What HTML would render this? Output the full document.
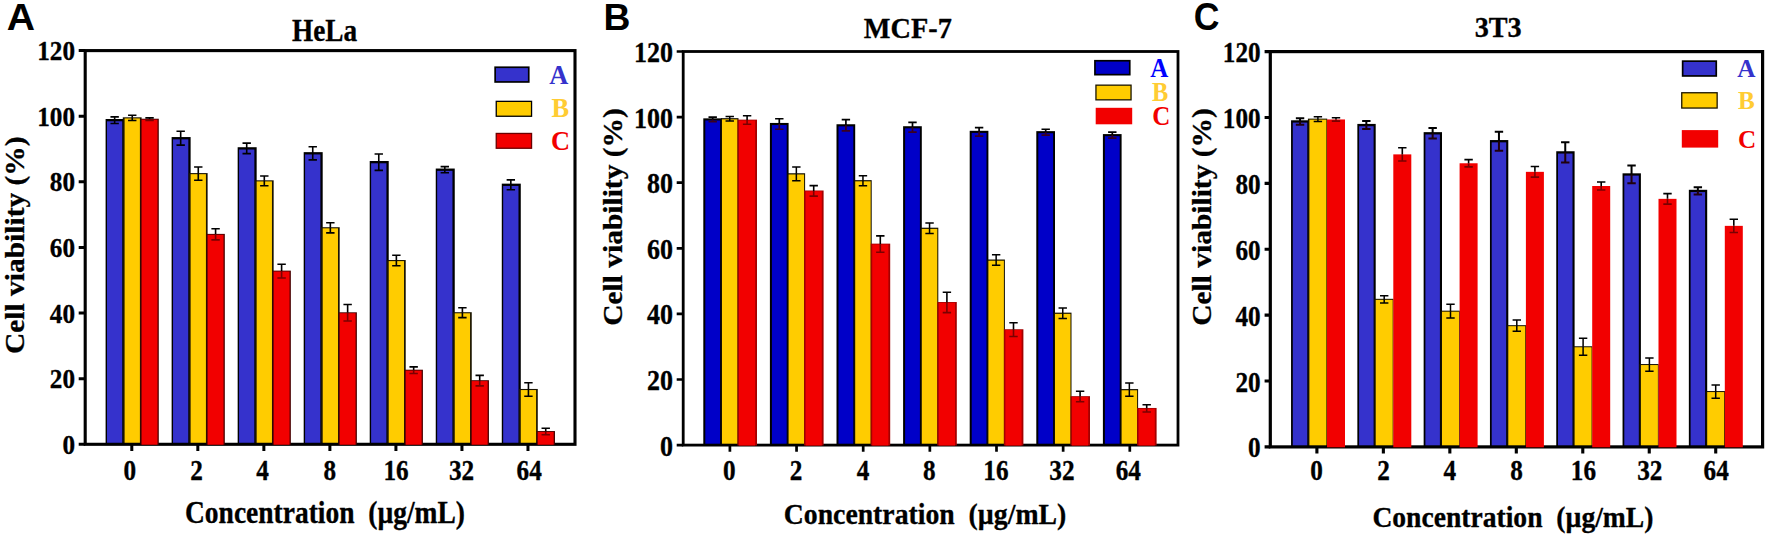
<!DOCTYPE html>
<html lang="en">
<head>
<meta charset="utf-8">
<title>Cell viability of HeLa, MCF-7 and 3T3 cells</title>
<style>
html,body{margin:0;padding:0;background:#fff;}
body{width:1772px;height:539px;overflow:hidden;}
svg{display:block;}
text{font-family:"Liberation Serif","Times New Roman",Times,serif;font-weight:bold;}
.tk,.ti,.xl,.yl{stroke:#000;stroke-width:0.3px;stroke-linejoin:round;}
.xl{white-space:pre;}
.yl{font-size:26.7px;}
.le{font-family:"Liberation Sans",Arial,Helvetica,sans-serif;font-size:37.3px;}
</style>
</head>
<body>
<svg width="1772" height="539" viewBox="0 0 1772 539">
<rect width="1772" height="539" fill="#fff"/>
<g class="panel" id="panelA">
<rect x="105.6" y="119" width="19" height="325.3" fill="#000"/><rect x="107" y="121.3" width="15.3" height="323" fill="#3532CC"/>
<rect x="122.8" y="117.31" width="18.8" height="326.99" fill="#1a1400"/><rect x="124.6" y="118.41" width="15.3" height="325.89" fill="#FFCC00"/>
<rect x="171.63" y="137.05" width="19" height="307.25" fill="#000"/><rect x="173.03" y="139.35" width="15.3" height="304.95" fill="#3532CC"/>
<rect x="188.83" y="173.08" width="18.8" height="271.22" fill="#1a1400"/><rect x="190.63" y="174.18" width="15.3" height="270.12" fill="#FFCC00"/>
<rect x="237.66" y="147.22" width="19" height="297.08" fill="#000"/><rect x="239.06" y="149.52" width="15.3" height="294.78" fill="#3532CC"/>
<rect x="254.86" y="180.3" width="18.8" height="264" fill="#1a1400"/><rect x="256.66" y="181.4" width="15.3" height="262.9" fill="#FFCC00"/>
<rect x="303.69" y="152.14" width="19" height="292.16" fill="#000"/><rect x="305.09" y="154.44" width="15.3" height="289.86" fill="#3532CC"/>
<rect x="320.89" y="227.22" width="18.8" height="217.09" fill="#1a1400"/><rect x="322.69" y="228.32" width="15.3" height="215.98" fill="#FFCC00"/>
<rect x="369.72" y="161" width="19" height="283.3" fill="#000"/><rect x="371.12" y="163.3" width="15.3" height="281" fill="#3532CC"/>
<rect x="386.92" y="260.02" width="18.8" height="184.28" fill="#1a1400"/><rect x="388.72" y="261.12" width="15.3" height="183.18" fill="#FFCC00"/>
<rect x="435.75" y="168.54" width="19" height="275.76" fill="#000"/><rect x="437.15" y="170.84" width="15.3" height="273.46" fill="#3532CC"/>
<rect x="452.95" y="312.19" width="18.8" height="132.11" fill="#1a1400"/><rect x="454.75" y="313.29" width="15.3" height="131.01" fill="#FFCC00"/>
<rect x="501.78" y="183.64" width="19" height="260.66" fill="#000"/><rect x="503.18" y="185.94" width="15.3" height="258.36" fill="#3532CC"/>
<rect x="518.98" y="388.96" width="18.8" height="55.34" fill="#1a1400"/><rect x="520.78" y="390.06" width="15.3" height="54.24" fill="#FFCC00"/>
<rect x="85.2" y="50.6" width="489.8" height="393.7" fill="none" stroke="#000" stroke-width="3.1"/>
<rect x="140.5" y="118.72" width="18.3" height="325.98" fill="#4a0000"/><rect x="141.6" y="119.62" width="15.9" height="325.08" fill="#F20000"/>
<rect x="206.53" y="233.88" width="18.3" height="210.82" fill="#4a0000"/><rect x="207.63" y="234.78" width="15.9" height="209.92" fill="#F20000"/>
<rect x="272.56" y="270.62" width="18.3" height="174.08" fill="#4a0000"/><rect x="273.66" y="271.52" width="15.9" height="173.18" fill="#F20000"/>
<rect x="338.59" y="312.29" width="18.3" height="132.41" fill="#4a0000"/><rect x="339.69" y="313.19" width="15.9" height="131.51" fill="#F20000"/>
<rect x="404.62" y="369.7" width="18.3" height="75" fill="#4a0000"/><rect x="405.72" y="370.6" width="15.9" height="74.1" fill="#F20000"/>
<rect x="470.65" y="380.2" width="18.3" height="64.5" fill="#4a0000"/><rect x="471.75" y="381.1" width="15.9" height="63.6" fill="#F20000"/>
<rect x="536.68" y="431.05" width="18.3" height="13.65" fill="#4a0000"/><rect x="537.78" y="431.95" width="15.9" height="12.75" fill="#F20000"/>
<path d="M114.65 116.87V120.15M110.45 116.87H118.85" stroke="#000" stroke-width="1.6" fill="none"/>
<path d="M114.65 120.15V123.43M110.45 123.43H118.85" stroke="#000" stroke-width="1.6" fill="none"/>
<path d="M132.25 115.23V117.86M128.05 115.23H136.45" stroke="#000" stroke-width="1.6" fill="none"/>
<path d="M132.25 117.86V120.48M128.05 120.48H136.45" stroke="#000" stroke-width="1.6" fill="none"/>
<path d="M149.55 117.86V119.17M145.35 117.86H153.75" stroke="#000" stroke-width="1.6" fill="none"/>
<path d="M149.55 119.17V120.48M145.35 120.48H153.75" stroke="#7a0000" stroke-width="1.6" fill="none"/>
<path d="M180.68 131.31V138.2M176.48 131.31H184.88" stroke="#000" stroke-width="1.6" fill="none"/>
<path d="M180.68 138.2V145.09M176.48 145.09H184.88" stroke="#000" stroke-width="1.6" fill="none"/>
<path d="M198.28 167.07V173.63M194.08 167.07H202.48" stroke="#000" stroke-width="1.6" fill="none"/>
<path d="M198.28 173.63V180.19M194.08 180.19H202.48" stroke="#000" stroke-width="1.6" fill="none"/>
<path d="M215.58 228.75V234.33M211.38 228.75H219.78" stroke="#000" stroke-width="1.6" fill="none"/>
<path d="M215.58 234.33V239.9M211.38 239.9H219.78" stroke="#7a0000" stroke-width="1.6" fill="none"/>
<path d="M246.71 143.12V148.37M242.51 143.12H250.91" stroke="#000" stroke-width="1.6" fill="none"/>
<path d="M246.71 148.37V153.62M242.51 153.62H250.91" stroke="#000" stroke-width="1.6" fill="none"/>
<path d="M264.31 175.93V180.85M260.11 175.93H268.51" stroke="#000" stroke-width="1.6" fill="none"/>
<path d="M264.31 180.85V185.77M260.11 185.77H268.51" stroke="#000" stroke-width="1.6" fill="none"/>
<path d="M281.61 264.18V271.07M277.41 264.18H285.81" stroke="#000" stroke-width="1.6" fill="none"/>
<path d="M281.61 271.07V277.96M277.41 277.96H285.81" stroke="#7a0000" stroke-width="1.6" fill="none"/>
<path d="M312.74 146.73V153.29M308.54 146.73H316.94" stroke="#000" stroke-width="1.6" fill="none"/>
<path d="M312.74 153.29V159.85M308.54 159.85H316.94" stroke="#000" stroke-width="1.6" fill="none"/>
<path d="M330.34 222.68V227.77M326.14 222.68H334.54" stroke="#000" stroke-width="1.6" fill="none"/>
<path d="M330.34 227.77V232.85M326.14 232.85H334.54" stroke="#000" stroke-width="1.6" fill="none"/>
<path d="M347.64 304.54V312.74M343.44 304.54H351.84" stroke="#000" stroke-width="1.6" fill="none"/>
<path d="M347.64 312.74V320.94M343.44 320.94H351.84" stroke="#7a0000" stroke-width="1.6" fill="none"/>
<path d="M378.77 153.95V162.15M374.57 153.95H382.97" stroke="#000" stroke-width="1.6" fill="none"/>
<path d="M378.77 162.15V170.35M374.57 170.35H382.97" stroke="#000" stroke-width="1.6" fill="none"/>
<path d="M396.37 255.32V260.57M392.17 255.32H400.57" stroke="#000" stroke-width="1.6" fill="none"/>
<path d="M396.37 260.57V265.82M392.17 265.82H400.57" stroke="#000" stroke-width="1.6" fill="none"/>
<path d="M413.67 366.87V370.15M409.47 366.87H417.87" stroke="#000" stroke-width="1.6" fill="none"/>
<path d="M413.67 370.15V373.43M409.47 373.43H417.87" stroke="#7a0000" stroke-width="1.6" fill="none"/>
<path d="M444.8 166.58V169.69M440.6 166.58H449" stroke="#000" stroke-width="1.6" fill="none"/>
<path d="M444.8 169.69V172.81M440.6 172.81H449" stroke="#000" stroke-width="1.6" fill="none"/>
<path d="M462.4 307.82V312.74M458.2 307.82H466.6" stroke="#000" stroke-width="1.6" fill="none"/>
<path d="M462.4 312.74V317.66M458.2 317.66H466.6" stroke="#000" stroke-width="1.6" fill="none"/>
<path d="M479.7 375.4V380.65M475.5 375.4H483.9" stroke="#000" stroke-width="1.6" fill="none"/>
<path d="M479.7 380.65V385.9M475.5 385.9H483.9" stroke="#7a0000" stroke-width="1.6" fill="none"/>
<path d="M510.83 179.86V184.79M506.63 179.86H515.03" stroke="#000" stroke-width="1.6" fill="none"/>
<path d="M510.83 184.79V189.71M506.63 189.71H515.03" stroke="#000" stroke-width="1.6" fill="none"/>
<path d="M528.43 382.78V389.51M524.23 382.78H532.63" stroke="#000" stroke-width="1.6" fill="none"/>
<path d="M528.43 389.51V396.24M524.23 396.24H532.63" stroke="#000" stroke-width="1.6" fill="none"/>
<path d="M545.73 428.22V431.5M541.53 428.22H549.93" stroke="#000" stroke-width="1.6" fill="none"/>
<path d="M545.73 431.5V434.79M541.53 434.79H549.93" stroke="#7a0000" stroke-width="1.6" fill="none"/>
<path d="M78.7 444.3H85.2M78.7 378.68H85.2M78.7 313.07H85.2M78.7 247.45H85.2M78.7 181.83H85.2M78.7 116.22H85.2M78.7 50.6H85.2M131.8 444.3V450.9M197.83 444.3V450.9M263.86 444.3V450.9M329.89 444.3V450.9M395.92 444.3V450.9M461.95 444.3V450.9M527.98 444.3V450.9" stroke="#000" stroke-width="3.0" fill="none"/>
<text class="tk" transform="translate(75 453.9) scale(1 1.09)" text-anchor="end" font-size="25.2">0</text>
<text class="tk" transform="translate(75 388.28) scale(1 1.09)" text-anchor="end" font-size="25.2">20</text>
<text class="tk" transform="translate(75 322.67) scale(1 1.09)" text-anchor="end" font-size="25.2">40</text>
<text class="tk" transform="translate(75 257.05) scale(1 1.09)" text-anchor="end" font-size="25.2">60</text>
<text class="tk" transform="translate(75 191.43) scale(1 1.09)" text-anchor="end" font-size="25.2">80</text>
<text class="tk" transform="translate(75 125.82) scale(1 1.09)" text-anchor="end" font-size="25.2">100</text>
<text class="tk" transform="translate(75 60.2) scale(1 1.09)" text-anchor="end" font-size="25.2">120</text>
<text class="tk" transform="translate(129.85 479.7) scale(1 1.13)" text-anchor="middle" font-size="25.2">0</text>
<text class="tk" transform="translate(196.6 479.7) scale(1 1.13)" text-anchor="middle" font-size="25.2">2</text>
<text class="tk" transform="translate(262.6 479.7) scale(1 1.13)" text-anchor="middle" font-size="25.2">4</text>
<text class="tk" transform="translate(329.7 479.7) scale(1 1.13)" text-anchor="middle" font-size="25.2">8</text>
<text class="tk" transform="translate(396 479.7) scale(1 1.13)" text-anchor="middle" font-size="25.2">16</text>
<text class="tk" transform="translate(461.5 479.7) scale(1 1.13)" text-anchor="middle" font-size="25.2">32</text>
<text class="tk" transform="translate(529.2 479.7) scale(1 1.13)" text-anchor="middle" font-size="25.2">64</text>
<text class="ti" transform="translate(324.5 41.2) scale(1 1.12)" text-anchor="middle" font-size="27.3">HeLa</text>
<text class="le" transform="translate(6.7 30.1) scale(1.05 1)" text-anchor="start">A</text>
<text class="xl" transform="translate(325 523.45) scale(1 1.115)" text-anchor="middle" xml:space="preserve" font-size="27.5">Concentration  (µg/mL)</text>
<text class="yl" transform="translate(23.8 245.2) rotate(-90) scale(1.104 1)" text-anchor="middle">Cell viability (%)</text>
<rect x="495.15" y="67.25" width="33.6" height="14.7" fill="#3532CC" stroke="#000" stroke-width="1.7000000000000002"/>
<text class="lg" transform="translate(558.85 83.6) scale(1 1.02)" text-anchor="middle" fill="#3532CC" font-size="26.4">A</text>
<rect x="496.25" y="101.35" width="35.3" height="14.9" fill="#FFCC00" stroke="#000" stroke-width="1.3"/>
<text class="lg" transform="translate(560.35 117) scale(1 1.02)" text-anchor="middle" fill="#FFCC33" font-size="26.4">B</text>
<rect x="496.25" y="133.45" width="35.3" height="14.8" fill="#F20000" stroke="#6a0000" stroke-width="1.3"/>
<text class="lg" transform="translate(560.55 149.55) scale(1 1.02)" text-anchor="middle" fill="#F20000" font-size="26.4">C</text>
</g>
<g class="panel" id="panelB">
<rect x="703.3" y="118.35" width="18.7" height="326.75" fill="#000"/><rect x="705.3" y="120.45" width="14.8" height="324.65" fill="#0000C8"/>
<rect x="720.9" y="118.14" width="17.6" height="326.96" fill="#141000"/><rect x="722" y="119.34" width="15.5" height="325.76" fill="#FFCC00"/>
<rect x="769.9" y="122.94" width="18.7" height="322.16" fill="#000"/><rect x="771.9" y="125.04" width="14.8" height="320.06" fill="#0000C8"/>
<rect x="787.5" y="173.24" width="17.6" height="271.86" fill="#141000"/><rect x="788.6" y="174.44" width="15.5" height="270.66" fill="#FFCC00"/>
<rect x="836.5" y="124.25" width="18.7" height="320.85" fill="#000"/><rect x="838.5" y="126.35" width="14.8" height="318.75" fill="#0000C8"/>
<rect x="854.1" y="180.13" width="17.6" height="264.97" fill="#141000"/><rect x="855.2" y="181.33" width="15.5" height="263.77" fill="#FFCC00"/>
<rect x="903.1" y="126.22" width="18.7" height="318.88" fill="#000"/><rect x="905.1" y="128.32" width="14.8" height="316.78" fill="#0000C8"/>
<rect x="920.7" y="227.69" width="17.6" height="217.41" fill="#141000"/><rect x="921.8" y="228.89" width="15.5" height="216.21" fill="#FFCC00"/>
<rect x="969.7" y="130.81" width="18.7" height="314.29" fill="#000"/><rect x="971.7" y="132.91" width="14.8" height="312.19" fill="#0000C8"/>
<rect x="987.3" y="259.51" width="17.6" height="185.59" fill="#141000"/><rect x="988.4" y="260.71" width="15.5" height="184.39" fill="#FFCC00"/>
<rect x="1036.3" y="131.14" width="18.7" height="313.96" fill="#000"/><rect x="1038.3" y="133.24" width="14.8" height="311.86" fill="#0000C8"/>
<rect x="1053.9" y="312.64" width="17.6" height="132.46" fill="#141000"/><rect x="1055" y="313.84" width="15.5" height="131.26" fill="#FFCC00"/>
<rect x="1102.9" y="134.09" width="18.7" height="311.01" fill="#000"/><rect x="1104.9" y="136.19" width="14.8" height="308.91" fill="#0000C8"/>
<rect x="1120.5" y="389.07" width="17.6" height="56.03" fill="#141000"/><rect x="1121.6" y="390.27" width="15.5" height="54.83" fill="#FFCC00"/>
<rect x="683.2" y="51.5" width="494.8" height="393.6" fill="none" stroke="#000" stroke-width="2.8"/>
<rect x="737.5" y="119.65" width="19.5" height="325.85" fill="#A40000"/><rect x="739" y="120.45" width="16.2" height="325.05" fill="#F20000"/>
<rect x="804.1" y="190.5" width="19.5" height="255" fill="#A40000"/><rect x="805.6" y="191.3" width="16.2" height="254.2" fill="#F20000"/>
<rect x="870.7" y="243.64" width="19.5" height="201.86" fill="#A40000"/><rect x="872.2" y="244.44" width="16.2" height="201.06" fill="#F20000"/>
<rect x="937.3" y="302.02" width="19.5" height="143.48" fill="#A40000"/><rect x="938.8" y="302.82" width="16.2" height="142.68" fill="#F20000"/>
<rect x="1003.9" y="329.24" width="19.5" height="116.26" fill="#A40000"/><rect x="1005.4" y="330.04" width="16.2" height="115.46" fill="#F20000"/>
<rect x="1070.5" y="396.16" width="19.5" height="49.34" fill="#A40000"/><rect x="1072" y="396.96" width="16.2" height="48.54" fill="#F20000"/>
<rect x="1137.1" y="407.96" width="19.5" height="37.54" fill="#A40000"/><rect x="1138.6" y="408.76" width="16.2" height="36.74" fill="#F20000"/>
<path d="M712.7 117.1V119.4M708.5 117.1H716.9" stroke="#000" stroke-width="1.7" fill="none"/>
<path d="M712.7 119.4V121.69M708.5 121.69H716.9" stroke="#3a0020" stroke-width="1.7" fill="none"/>
<path d="M729.75 116.44V118.74M725.55 116.44H733.95" stroke="#000" stroke-width="1.5" fill="none"/>
<path d="M729.75 118.74V121.04M725.55 121.04H733.95" stroke="#000" stroke-width="1.5" fill="none"/>
<path d="M747.1 115.79V120.05M742.9 115.79H751.3" stroke="#000" stroke-width="1.6" fill="none"/>
<path d="M747.1 120.05V124.32M742.9 124.32H751.3" stroke="#7a0000" stroke-width="1.6" fill="none"/>
<path d="M779.3 118.74V123.99M775.1 118.74H783.5" stroke="#000" stroke-width="1.7" fill="none"/>
<path d="M779.3 123.99V129.24M775.1 129.24H783.5" stroke="#3a0020" stroke-width="1.7" fill="none"/>
<path d="M796.35 166.96V173.84M792.15 166.96H800.55" stroke="#000" stroke-width="1.5" fill="none"/>
<path d="M796.35 173.84V180.73M792.15 180.73H800.55" stroke="#000" stroke-width="1.5" fill="none"/>
<path d="M813.7 185.65V190.9M809.5 185.65H817.9" stroke="#000" stroke-width="1.6" fill="none"/>
<path d="M813.7 190.9V196.15M809.5 196.15H817.9" stroke="#7a0000" stroke-width="1.6" fill="none"/>
<path d="M845.9 119.72V125.3M841.7 119.72H850.1" stroke="#000" stroke-width="1.7" fill="none"/>
<path d="M845.9 125.3V130.88M841.7 130.88H850.1" stroke="#3a0020" stroke-width="1.7" fill="none"/>
<path d="M862.95 175.81V180.73M858.75 175.81H867.15" stroke="#000" stroke-width="1.5" fill="none"/>
<path d="M862.95 180.73V185.65M858.75 185.65H867.15" stroke="#000" stroke-width="1.5" fill="none"/>
<path d="M880.3 235.84V244.04M876.1 235.84H884.5" stroke="#000" stroke-width="1.6" fill="none"/>
<path d="M880.3 244.04V252.24M876.1 252.24H884.5" stroke="#7a0000" stroke-width="1.6" fill="none"/>
<path d="M912.5 122.35V127.27M908.3 122.35H916.7" stroke="#000" stroke-width="1.7" fill="none"/>
<path d="M912.5 127.27V132.19M908.3 132.19H916.7" stroke="#3a0020" stroke-width="1.7" fill="none"/>
<path d="M929.55 223.04V228.29M925.35 223.04H933.75" stroke="#000" stroke-width="1.5" fill="none"/>
<path d="M929.55 228.29V233.54M925.35 233.54H933.75" stroke="#000" stroke-width="1.5" fill="none"/>
<path d="M946.9 292.25V302.42M942.7 292.25H951.1" stroke="#000" stroke-width="1.6" fill="none"/>
<path d="M946.9 302.42V312.59M942.7 312.59H951.1" stroke="#7a0000" stroke-width="1.6" fill="none"/>
<path d="M979.1 127.6V131.86M974.9 127.6H983.3" stroke="#000" stroke-width="1.7" fill="none"/>
<path d="M979.1 131.86V136.12M974.9 136.12H983.3" stroke="#3a0020" stroke-width="1.7" fill="none"/>
<path d="M996.15 254.86V260.11M991.95 254.86H1000.35" stroke="#000" stroke-width="1.5" fill="none"/>
<path d="M996.15 260.11V265.36M991.95 265.36H1000.35" stroke="#000" stroke-width="1.5" fill="none"/>
<path d="M1013.5 322.76V329.64M1009.3 322.76H1017.7" stroke="#000" stroke-width="1.6" fill="none"/>
<path d="M1013.5 329.64V336.53M1009.3 336.53H1017.7" stroke="#7a0000" stroke-width="1.6" fill="none"/>
<path d="M1045.7 129.24V132.19M1041.5 129.24H1049.9" stroke="#000" stroke-width="1.7" fill="none"/>
<path d="M1045.7 132.19V135.14M1041.5 135.14H1049.9" stroke="#3a0020" stroke-width="1.7" fill="none"/>
<path d="M1062.75 308V313.24M1058.55 308H1066.95" stroke="#000" stroke-width="1.5" fill="none"/>
<path d="M1062.75 313.24V318.49M1058.55 318.49H1066.95" stroke="#000" stroke-width="1.5" fill="none"/>
<path d="M1080.1 391.31V396.56M1075.9 391.31H1084.3" stroke="#000" stroke-width="1.6" fill="none"/>
<path d="M1080.1 396.56V401.8M1075.9 401.8H1084.3" stroke="#7a0000" stroke-width="1.6" fill="none"/>
<path d="M1112.3 132.19V135.14M1108.1 132.19H1116.5" stroke="#000" stroke-width="1.7" fill="none"/>
<path d="M1112.3 135.14V138.09M1108.1 138.09H1116.5" stroke="#3a0020" stroke-width="1.7" fill="none"/>
<path d="M1129.35 383.11V389.67M1125.15 383.11H1133.55" stroke="#000" stroke-width="1.5" fill="none"/>
<path d="M1129.35 389.67V396.23M1125.15 396.23H1133.55" stroke="#000" stroke-width="1.5" fill="none"/>
<path d="M1146.7 404.76V408.36M1142.5 404.76H1150.9" stroke="#000" stroke-width="1.6" fill="none"/>
<path d="M1146.7 408.36V411.97M1142.5 411.97H1150.9" stroke="#7a0000" stroke-width="1.6" fill="none"/>
<path d="M676.7 445.1H683.2M676.7 379.5H683.2M676.7 313.9H683.2M676.7 248.3H683.2M676.7 182.7H683.2M676.7 117.1H683.2M676.7 51.5H683.2M729.9 445.1V451.7M796.55 445.1V451.7M863.2 445.1V451.7M929.85 445.1V451.7M996.5 445.1V451.7M1063.15 445.1V451.7M1129.8 445.1V451.7" stroke="#000" stroke-width="2.7" fill="none"/>
<text class="tk" transform="translate(672.9 455.6) scale(1 1.14)" text-anchor="end" font-size="26.0">0</text>
<text class="tk" transform="translate(672.9 390) scale(1 1.14)" text-anchor="end" font-size="26.0">20</text>
<text class="tk" transform="translate(672.9 324.4) scale(1 1.14)" text-anchor="end" font-size="26.0">40</text>
<text class="tk" transform="translate(672.9 258.8) scale(1 1.14)" text-anchor="end" font-size="26.0">60</text>
<text class="tk" transform="translate(672.9 193.2) scale(1 1.14)" text-anchor="end" font-size="26.0">80</text>
<text class="tk" transform="translate(672.9 127.6) scale(1 1.14)" text-anchor="end" font-size="26.0">100</text>
<text class="tk" transform="translate(672.9 62) scale(1 1.14)" text-anchor="end" font-size="26.0">120</text>
<text class="tk" transform="translate(729.4 480) scale(1 1.13)" text-anchor="middle" font-size="25.2">0</text>
<text class="tk" transform="translate(796 480) scale(1 1.13)" text-anchor="middle" font-size="25.2">2</text>
<text class="tk" transform="translate(863 480) scale(1 1.13)" text-anchor="middle" font-size="25.2">4</text>
<text class="tk" transform="translate(929.4 480) scale(1 1.13)" text-anchor="middle" font-size="25.2">8</text>
<text class="tk" transform="translate(995.9 480) scale(1 1.13)" text-anchor="middle" font-size="25.2">16</text>
<text class="tk" transform="translate(1061.9 480) scale(1 1.13)" text-anchor="middle" font-size="25.2">32</text>
<text class="tk" transform="translate(1128.3 480) scale(1 1.13)" text-anchor="middle" font-size="25.2">64</text>
<text class="ti" transform="translate(907.8 37.7) scale(1 1.005)" text-anchor="middle" font-size="28.3">MCF-7</text>
<text class="le" transform="translate(603.4 30)" text-anchor="start">B</text>
<text class="xl" transform="translate(925 524.05) scale(1 1.083)" text-anchor="middle" xml:space="preserve" font-size="27.75">Concentration  (µg/mL)</text>
<text class="yl" transform="translate(621.8 217) rotate(-90) scale(1.104 1)" text-anchor="middle">Cell viability (%)</text>
<rect x="1094.95" y="60.75" width="34.8" height="13.9" fill="#0000C8" stroke="#000" stroke-width="1.7000000000000002"/>
<text class="lg" transform="translate(1159.2 76.8) scale(1 1.09)" text-anchor="middle" fill="#0000FF" font-size="25.0">A</text>
<rect x="1095.95" y="85.15" width="35.1" height="14.7" fill="#FFCC00" stroke="#1a1400" stroke-width="1.3"/>
<text class="lg" transform="translate(1160.1 101) scale(1 1.12)" text-anchor="middle" fill="#FFCC33" font-size="24.4">B</text>
<rect x="1095.7" y="107.8" width="36.5" height="16.5" fill="#F20000"/>
<text class="lg" transform="translate(1161.25 125.2) scale(1 1.06)" text-anchor="middle" fill="#F20000" font-size="25.0">C</text>
</g>
<g class="panel" id="panelC">
<rect x="1291.05" y="120.29" width="18.35" height="326.61" fill="#000"/><rect x="1292.8" y="122.59" width="14.5" height="324.31" fill="#3532CC"/>
<rect x="1307.9" y="118.63" width="19.3" height="328.27" fill="#141000"/><rect x="1309.4" y="119.63" width="17" height="327.27" fill="#FFCC00"/>
<rect x="1357.35" y="123.91" width="18.35" height="322.99" fill="#000"/><rect x="1359.1" y="126.21" width="14.5" height="320.69" fill="#3532CC"/>
<rect x="1374.2" y="298.82" width="19.3" height="148.08" fill="#141000"/><rect x="1375.7" y="299.82" width="17" height="147.08" fill="#FFCC00"/>
<rect x="1423.65" y="132.15" width="18.35" height="314.75" fill="#000"/><rect x="1425.4" y="134.45" width="14.5" height="312.45" fill="#3532CC"/>
<rect x="1440.5" y="310.68" width="19.3" height="136.22" fill="#141000"/><rect x="1442" y="311.68" width="17" height="135.22" fill="#FFCC00"/>
<rect x="1489.95" y="140.05" width="18.35" height="306.85" fill="#000"/><rect x="1491.7" y="142.35" width="14.5" height="304.55" fill="#3532CC"/>
<rect x="1506.8" y="325.17" width="19.3" height="121.73" fill="#141000"/><rect x="1508.3" y="326.17" width="17" height="120.73" fill="#FFCC00"/>
<rect x="1556.25" y="151.25" width="18.35" height="295.65" fill="#000"/><rect x="1558" y="153.55" width="14.5" height="293.35" fill="#3532CC"/>
<rect x="1573.1" y="346.26" width="19.3" height="100.64" fill="#141000"/><rect x="1574.6" y="347.26" width="17" height="99.64" fill="#FFCC00"/>
<rect x="1622.55" y="173.32" width="18.35" height="273.58" fill="#000"/><rect x="1624.3" y="175.62" width="14.5" height="271.28" fill="#3532CC"/>
<rect x="1639.4" y="364.05" width="19.3" height="82.85" fill="#141000"/><rect x="1640.9" y="365.05" width="17" height="81.85" fill="#FFCC00"/>
<rect x="1688.85" y="189.79" width="18.35" height="257.11" fill="#000"/><rect x="1690.6" y="192.09" width="14.5" height="254.81" fill="#3532CC"/>
<rect x="1705.7" y="391.06" width="19.3" height="55.84" fill="#141000"/><rect x="1707.2" y="392.06" width="17" height="54.84" fill="#FFCC00"/>
<rect x="1270.3" y="51.6" width="492.3" height="395.3" fill="none" stroke="#000" stroke-width="3.2"/>
<rect x="1327" y="119.46" width="18" height="327.84" fill="#F20000"/>
<rect x="1393.3" y="154.38" width="18" height="292.92" fill="#F20000"/>
<rect x="1459.6" y="163.27" width="18" height="284.03" fill="#F20000"/>
<rect x="1525.9" y="171.84" width="18" height="275.46" fill="#F20000"/>
<rect x="1592.2" y="186" width="18" height="261.3" fill="#F20000"/>
<rect x="1658.5" y="198.85" width="18" height="248.45" fill="#F20000"/>
<rect x="1724.8" y="225.86" width="18" height="221.44" fill="#F20000"/>
<path d="M1300.05 118.14V121.44M1295.85 118.14H1304.25" stroke="#000" stroke-width="2.0" fill="none"/>
<path d="M1300.05 121.44V124.73M1295.85 124.73H1304.25" stroke="#20000c" stroke-width="2.0" fill="none"/>
<path d="M1317.9 116.82V119.13M1313.7 116.82H1322.1" stroke="#000" stroke-width="1.5" fill="none"/>
<path d="M1317.9 119.13V121.44M1313.7 121.44H1322.1" stroke="#000" stroke-width="1.5" fill="none"/>
<path d="M1336 117.81V119.46M1331.8 117.81H1340.2" stroke="#000" stroke-width="1.6" fill="none"/>
<path d="M1336 119.46V121.11M1331.8 121.11H1340.2" stroke="#7a0000" stroke-width="1.6" fill="none"/>
<path d="M1366.35 121.11V125.06M1362.15 121.11H1370.55" stroke="#000" stroke-width="2.0" fill="none"/>
<path d="M1366.35 125.06V129.01M1362.15 129.01H1370.55" stroke="#20000c" stroke-width="2.0" fill="none"/>
<path d="M1384.2 295.7V299.32M1380 295.7H1388.4" stroke="#000" stroke-width="1.5" fill="none"/>
<path d="M1384.2 299.32V302.94M1380 302.94H1388.4" stroke="#000" stroke-width="1.5" fill="none"/>
<path d="M1402.3 147.79V154.38M1398.1 147.79H1406.5" stroke="#000" stroke-width="1.6" fill="none"/>
<path d="M1402.3 154.38V160.97M1398.1 160.97H1406.5" stroke="#7a0000" stroke-width="1.6" fill="none"/>
<path d="M1432.65 128.02V133.3M1428.45 128.02H1436.85" stroke="#000" stroke-width="2.0" fill="none"/>
<path d="M1432.65 133.3V138.57M1428.45 138.57H1436.85" stroke="#20000c" stroke-width="2.0" fill="none"/>
<path d="M1450.5 304.26V311.18M1446.3 304.26H1454.7" stroke="#000" stroke-width="1.5" fill="none"/>
<path d="M1450.5 311.18V318.1M1446.3 318.1H1454.7" stroke="#000" stroke-width="1.5" fill="none"/>
<path d="M1468.6 159.65V163.27M1464.4 159.65H1472.8" stroke="#000" stroke-width="1.6" fill="none"/>
<path d="M1468.6 163.27V166.9M1464.4 166.9H1472.8" stroke="#7a0000" stroke-width="1.6" fill="none"/>
<path d="M1498.95 131.65V141.2M1494.75 131.65H1503.15" stroke="#000" stroke-width="2.0" fill="none"/>
<path d="M1498.95 141.2V150.75M1494.75 150.75H1503.15" stroke="#20000c" stroke-width="2.0" fill="none"/>
<path d="M1516.8 320.07V325.67M1512.6 320.07H1521" stroke="#000" stroke-width="1.5" fill="none"/>
<path d="M1516.8 325.67V331.27M1512.6 331.27H1521" stroke="#000" stroke-width="1.5" fill="none"/>
<path d="M1534.9 166.57V171.84M1530.7 166.57H1539.1" stroke="#000" stroke-width="1.6" fill="none"/>
<path d="M1534.9 171.84V177.11M1530.7 177.11H1539.1" stroke="#7a0000" stroke-width="1.6" fill="none"/>
<path d="M1565.25 142.19V152.4M1561.05 142.19H1569.45" stroke="#000" stroke-width="2.0" fill="none"/>
<path d="M1565.25 152.4V162.61M1561.05 162.61H1569.45" stroke="#20000c" stroke-width="2.0" fill="none"/>
<path d="M1583.1 338.19V346.76M1578.9 338.19H1587.3" stroke="#000" stroke-width="1.5" fill="none"/>
<path d="M1583.1 346.76V355.32M1578.9 355.32H1587.3" stroke="#000" stroke-width="1.5" fill="none"/>
<path d="M1601.2 182.05V186M1597 182.05H1605.4" stroke="#000" stroke-width="1.6" fill="none"/>
<path d="M1601.2 186V189.95M1597 189.95H1605.4" stroke="#7a0000" stroke-width="1.6" fill="none"/>
<path d="M1631.55 165.58V174.47M1627.35 165.58H1635.75" stroke="#000" stroke-width="2.0" fill="none"/>
<path d="M1631.55 174.47V183.37M1627.35 183.37H1635.75" stroke="#20000c" stroke-width="2.0" fill="none"/>
<path d="M1649.4 357.96V364.55M1645.2 357.96H1653.6" stroke="#000" stroke-width="1.5" fill="none"/>
<path d="M1649.4 364.55V371.13M1645.2 371.13H1653.6" stroke="#000" stroke-width="1.5" fill="none"/>
<path d="M1667.5 193.58V198.85M1663.3 193.58H1671.7" stroke="#000" stroke-width="1.6" fill="none"/>
<path d="M1667.5 198.85V204.12M1663.3 204.12H1671.7" stroke="#7a0000" stroke-width="1.6" fill="none"/>
<path d="M1697.85 187.32V190.94M1693.65 187.32H1702.05" stroke="#000" stroke-width="2.0" fill="none"/>
<path d="M1697.85 190.94V194.57M1693.65 194.57H1702.05" stroke="#20000c" stroke-width="2.0" fill="none"/>
<path d="M1715.7 384.97V391.56M1711.5 384.97H1719.9" stroke="#000" stroke-width="1.5" fill="none"/>
<path d="M1715.7 391.56V398.15M1711.5 398.15H1719.9" stroke="#000" stroke-width="1.5" fill="none"/>
<path d="M1733.8 219.27V225.86M1729.6 219.27H1738" stroke="#000" stroke-width="1.6" fill="none"/>
<path d="M1733.8 225.86V232.45M1729.6 232.45H1738" stroke="#7a0000" stroke-width="1.6" fill="none"/>
<path d="M1264.6 446.9H1270.3M1264.6 381.02H1270.3M1264.6 315.13H1270.3M1264.6 249.25H1270.3M1264.6 183.37H1270.3M1264.6 117.48H1270.3M1264.6 51.6H1270.3M1316.9 446.9V453.5M1383.37 446.9V453.5M1449.84 446.9V453.5M1516.31 446.9V453.5M1582.78 446.9V453.5M1649.25 446.9V453.5M1715.72 446.9V453.5" stroke="#000" stroke-width="3.1" fill="none"/>
<text class="tk" transform="translate(1260.6 457.4) scale(1 1.14)" text-anchor="end" font-size="25.2">0</text>
<text class="tk" transform="translate(1260.6 391.52) scale(1 1.14)" text-anchor="end" font-size="25.2">20</text>
<text class="tk" transform="translate(1260.6 325.63) scale(1 1.14)" text-anchor="end" font-size="25.2">40</text>
<text class="tk" transform="translate(1260.6 259.75) scale(1 1.14)" text-anchor="end" font-size="25.2">60</text>
<text class="tk" transform="translate(1260.6 193.87) scale(1 1.14)" text-anchor="end" font-size="25.2">80</text>
<text class="tk" transform="translate(1260.6 127.98) scale(1 1.14)" text-anchor="end" font-size="25.2">100</text>
<text class="tk" transform="translate(1260.6 62.1) scale(1 1.14)" text-anchor="end" font-size="25.2">120</text>
<text class="tk" transform="translate(1316.5 479.8) scale(1 1.13)" text-anchor="middle" font-size="25.2">0</text>
<text class="tk" transform="translate(1383.5 479.8) scale(1 1.13)" text-anchor="middle" font-size="25.2">2</text>
<text class="tk" transform="translate(1449.8 479.8) scale(1 1.13)" text-anchor="middle" font-size="25.2">4</text>
<text class="tk" transform="translate(1516.5 479.8) scale(1 1.13)" text-anchor="middle" font-size="25.2">8</text>
<text class="tk" transform="translate(1583.4 479.8) scale(1 1.13)" text-anchor="middle" font-size="25.2">16</text>
<text class="tk" transform="translate(1649.8 479.8) scale(1 1.13)" text-anchor="middle" font-size="25.2">32</text>
<text class="tk" transform="translate(1716.2 479.8) scale(1 1.13)" text-anchor="middle" font-size="25.2">64</text>
<text class="ti" transform="translate(1498.15 37.1) scale(1 1.06)" text-anchor="middle" font-size="28.2">3T3</text>
<text class="le" transform="translate(1193.7 30.2) scale(0.955 1.04)" text-anchor="start">C</text>
<text class="xl" transform="translate(1512.9 527.05) scale(1 1.054)" text-anchor="middle" xml:space="preserve" font-size="27.6">Concentration  (µg/mL)</text>
<text class="yl" transform="translate(1210.5 217) rotate(-90) scale(1.104 1)" text-anchor="middle">Cell viability (%)</text>
<rect x="1682.65" y="61.15" width="33.6" height="14.8" fill="#3532CC" stroke="#000" stroke-width="1.7000000000000002"/>
<text class="lg" transform="translate(1746.4 77) scale(1 1.04)" text-anchor="middle" fill="#3532CC" font-size="25.2">A</text>
<rect x="1681.75" y="92.75" width="35.4" height="15.3" fill="#FFCC00" stroke="#1a1400" stroke-width="1.3"/>
<text class="lg" transform="translate(1746.3 108.8) scale(1 1.04)" text-anchor="middle" fill="#FFCC33" font-size="25.2">B</text>
<rect x="1681.8" y="130.1" width="36.4" height="17.5" fill="#F20000"/>
<text class="lg" transform="translate(1747 147.6) scale(1 1.04)" text-anchor="middle" fill="#F20000" font-size="25.2">C</text>
</g>
</svg>
</body>
</html>
